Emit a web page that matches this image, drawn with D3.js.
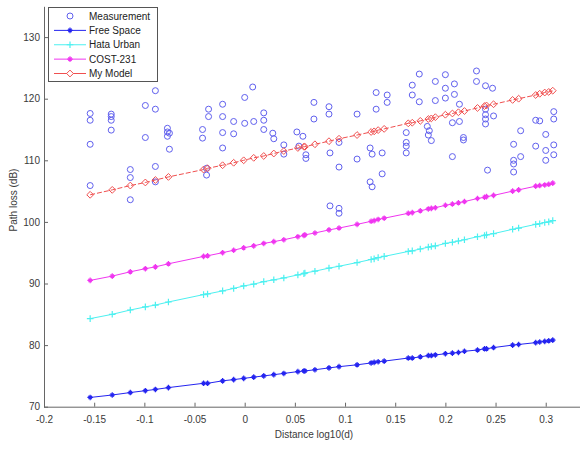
<!DOCTYPE html>
<html>
<head>
<meta charset="utf-8">
<script src="https://cdn.jsdelivr.net/npm/d3@7"></script>
<style>
  body { margin: 0; background: #fff; }
  svg { font-family: "Liberation Sans", Arial, sans-serif; }
  .axis path, .axis line { stroke: #666; }
  .axis text { fill: #3a3a3a; font-size: 10px; }
  .label { fill: #3a3a3a; font-size: 10px; }
</style>
</head>
<body>
<div id="chart"></div>
<script>
//////////////////
// Chart values //
//////////////////

// distances (log10) where the models are evaluated
var distX = [-0.154, -0.132, -0.114, -0.099, -0.089, -0.076, -0.041, -0.037, -0.022, -0.011,
  -0.001, 0.009, 0.019, 0.029, 0.039, 0.053, 0.059, 0.060, 0.070, 0.084,
  0.094, 0.112, 0.126, 0.129, 0.133, 0.139, 0.163, 0.167, 0.175, 0.183,
  0.186, 0.190, 0.200, 0.207, 0.213, 0.219, 0.232, 0.239, 0.241, 0.248,
  0.267, 0.273, 0.290, 0.294, 0.299, 0.303, 0.307];

var freeSpace = [71.5, 71.9, 72.3, 72.6, 72.8, 73.1, 73.8, 73.8, 74.2, 74.4,
  74.6, 74.8, 75.0, 75.2, 75.4, 75.7, 75.8, 75.8, 76.0, 76.3,
  76.5, 76.8, 77.1, 77.2, 77.3, 77.4, 77.9, 77.9, 78.1, 78.3,
  78.3, 78.4, 78.6, 78.7, 78.8, 79.0, 79.2, 79.4, 79.4, 79.6,
  80.0, 80.1, 80.4, 80.5, 80.6, 80.7, 80.8];

var hataUrban = [84.3, 85.0, 85.7, 86.2, 86.5, 87.0, 88.2, 88.3, 88.8, 89.2,
  89.6, 89.9, 90.3, 90.6, 90.9, 91.4, 91.6, 91.7, 92.0, 92.5,
  92.8, 93.4, 93.9, 94.0, 94.2, 94.4, 95.2, 95.3, 95.6, 95.9,
  96.0, 96.1, 96.5, 96.7, 96.9, 97.1, 97.6, 97.8, 97.9, 98.1,
  98.8, 99.0, 99.6, 99.7, 99.9, 100.0, 100.2];

var cost231 = [90.5, 91.2, 91.9, 92.4, 92.7, 93.2, 94.4, 94.5, 95.0, 95.4,
  95.8, 96.1, 96.5, 96.8, 97.1, 97.6, 97.8, 97.9, 98.2, 98.7,
  99.0, 99.6, 100.1, 100.2, 100.4, 100.6, 101.4, 101.5, 101.8, 102.1,
  102.2, 102.3, 102.7, 102.9, 103.1, 103.3, 103.8, 104.0, 104.1, 104.3,
  105.0, 105.2, 105.8, 105.9, 106.0, 106.1, 106.3];

var myModel = [104.4, 105.2, 105.9, 106.4, 106.8, 107.3, 108.5, 108.7, 109.2, 109.6,
  110.0, 110.4, 110.7, 111.1, 111.5, 112.0, 112.2, 112.2, 112.6, 113.1,
  113.5, 114.1, 114.6, 114.7, 114.9, 115.1, 116.0, 116.1, 116.4, 116.7,
  116.8, 117.0, 117.4, 117.6, 117.8, 118.0, 118.5, 118.8, 118.9, 119.1,
  119.8, 120.0, 120.6, 120.8, 121.0, 121.1, 121.3];

// measured points
var measX = [-0.154, -0.154, -0.154, -0.154, -0.133, -0.133, -0.133, -0.133, -0.114, -0.114,
  -0.114, -0.099, -0.099, -0.089, -0.089, -0.089, -0.089, -0.077, -0.077, -0.077,
  -0.075, -0.075, -0.042, -0.042, -0.038, -0.038, -0.036, -0.036, -0.022, -0.022,
  -0.022, -0.022, -0.011, -0.011, 0.000, 0.000, 0.008, 0.009, 0.019, 0.019,
  0.019, 0.028, 0.029, 0.039, 0.039, 0.052, 0.054, 0.058, 0.061, 0.061,
  0.069, 0.069, 0.084, 0.084, 0.085, 0.085, 0.094, 0.094, 0.094, 0.094,
  0.112, 0.112, 0.125, 0.127, 0.125, 0.127, 0.131, 0.131, 0.137, 0.137,
  0.142, 0.142, 0.161, 0.161, 0.161, 0.161, 0.167, 0.167, 0.174, 0.174,
  0.182, 0.184, 0.183, 0.186, 0.190, 0.190, 0.200, 0.200, 0.200, 0.209,
  0.209, 0.214, 0.207, 0.214, 0.218, 0.218, 0.207, 0.231, 0.231, 0.240,
  0.247, 0.240, 0.240, 0.240, 0.240, 0.248, 0.242, 0.275, 0.268, 0.275,
  0.268, 0.268, 0.268, 0.290, 0.294, 0.290, 0.300, 0.300, 0.300, 0.308,
  0.308, 0.308, 0.308];

var measY = [117.6, 116.5, 112.6, 105.9, 117.5, 117.1, 116.5, 114.9, 108.5, 107.2,
  103.6, 118.9, 113.7, 121.3, 118.3, 109.0, 106.5, 115.2, 114.6, 113.9,
  114.4, 111.8, 115.0, 113.6, 108.7, 107.6, 118.3, 117.1, 119.1, 117.1,
  114.5, 112.0, 116.3, 114.3, 120.2, 116.0, 121.9, 116.3, 117.7, 116.5,
  115.0, 114.4, 113.5, 112.5, 111.0, 114.6, 112.3, 113.9, 110.9, 110.3,
  119.4, 116.7, 118.7, 117.5, 111.2, 102.6, 112.9, 108.9, 102.2, 101.4,
  117.5, 110.2, 112.0, 111.0, 106.5, 105.7, 121.0, 118.3, 111.2, 107.8,
  120.6, 119.4, 114.5, 112.9, 112.3, 111.2, 122.2, 120.6, 124.0, 119.5,
  115.5, 114.8, 114.1, 113.2, 122.8, 119.7, 123.9, 121.7, 120.1, 122.4,
  120.7, 119.1, 116.1, 116.3, 113.7, 113.3, 110.6, 124.5, 122.8, 122.1,
  121.7, 118.3, 117.4, 116.7, 115.9, 117.2, 108.4, 114.8, 112.6, 110.6,
  110.0, 109.4, 108.1, 116.5, 116.4, 112.3, 114.2, 111.6, 110.0, 117.9,
  116.7, 112.5, 110.9];

var xTicks = [-0.2, -0.15, -0.1, -0.05, 0, 0.05, 0.1, 0.15, 0.2, 0.25, 0.3];
var xTickLabels = ["-0.2", "-0.15", "-0.1", "-0.05", "0", "0.05", "0.1", "0.15", "0.2", "0.25", "0.3"];
var yTicks = [70, 80, 90, 100, 110, 120, 130];

var legendNames = ["Measurement", "Free Space", "Hata Urban", "COST-231", "My Model"];

////////////////////////
// Scales and the svg //
////////////////////////
var width = 580, height = 455;

var xScale = d3.scaleLinear().domain([-0.2, 0.35]).range([44, 595.9]),
    yScale = d3.scaleLinear().domain([70, 135]).range([406.7, 6.3]);

var svg = d3.select("#chart").append("svg")
    .attr("width", width)
    .attr("height", height);

// marker shapes, drawn as strokes like matlab does
function markerPath(kind, s) {
  if (kind == "plus") {
    return "M" + (-s) + ",0H" + s + "M0," + (-s) + "V" + s;
  }
  if (kind == "star") {
    var k = s * 0.6;
    return "M" + (-s) + ",0H" + s + "M0," + (-s) + "V" + s +
      "M" + (-k) + "," + (-k) + "L" + k + "," + k + "M" + (-k) + "," + k + "L" + k + "," + (-k);
  }
  if (kind == "diamond") {
    return "M0," + (-s) + "L" + s + ",0L0," + s + "L" + (-s) + ",0Z";
  }
  return "";
}

var seriesStyle = [
  {name: "Free Space", values: freeSpace, color: "#2424f0", marker: "star", size: 2.8, dash: null},
  {name: "Hata Urban", values: hataUrban, color: "#4cf0f0", marker: "plus", size: 3.3, dash: null},
  {name: "COST-231", values: cost231, color: "#f035f0", marker: "star", size: 2.8, dash: null},
  {name: "My Model", values: myModel, color: "#f05050", marker: "diamond", size: 3.4, dash: "5,2"}
];

var measColor = "#6060ee";

//////////
// Axes //
//////////
var xAxis = d3.axisBottom(xScale)
    .tickValues(xTicks)
    .tickFormat(function(d, i) { return xTickLabels[i]; })
    .tickSizeInner(-4).tickSizeOuter(0).tickPadding(9);

var yAxis = d3.axisLeft(yScale)
    .tickValues(yTicks)
    .tickFormat(d3.format("d"))
    .tickSizeInner(-4).tickSizeOuter(0).tickPadding(4);

var gx = svg.append("g")
    .attr("class", "axis")
    .attr("transform", "translate(0," + yScale(70) + ")")
    .call(xAxis);
gx.select(".domain").attr("d", "M" + xScale(-0.2) + ",0.5H" + width);

var gy = svg.append("g")
    .attr("class", "axis")
    .attr("transform", "translate(" + xScale(-0.2) + ",0)")
    .call(yAxis);

// x label
svg.append("text")
    .attr("class", "label")
    .attr("x", 314)
    .attr("y", 438)
    .attr("text-anchor", "middle")
    .text("Distance log10(d)");

// y label
svg.append("text")
    .attr("class", "label")
    .attr("transform", "translate(17,200) rotate(-90)")
    .attr("text-anchor", "middle")
    .text("Path loss (dB)");

/////////////////
// Measurement //
/////////////////
var meas = measX.map(function(x, i) { return {x: x, y: measY[i]}; });

svg.append("g").selectAll("circle")
    .data(meas)
    .enter()
    .append("circle")
    .attr("cx", function(d) { return xScale(d.x); })
    .attr("cy", function(d) { return yScale(d.y); })
    .attr("r", 3)
    .attr("fill", "none")
    .attr("stroke", measColor)
    .attr("stroke-width", 1);

////////////
// Models //
////////////
var line = d3.line()
    .x(function(d) { return xScale(d.x); })
    .y(function(d) { return yScale(d.y); });

seriesStyle.forEach(function(s) {
  var pts = distX.map(function(x, i) { return {x: x, y: s.values[i]}; });
  var g = svg.append("g");
  g.append("path")
      .datum(pts)
      .attr("d", line)
      .attr("fill", "none")
      .attr("stroke", s.color)
      .attr("stroke-width", 1)
      .attr("stroke-dasharray", s.dash);
  g.selectAll(".mk")
      .data(pts)
      .enter()
      .append("path")
      .attr("class", "mk")
      .attr("transform", function(d) { return "translate(" + xScale(d.x) + "," + yScale(d.y) + ")"; })
      .attr("d", markerPath(s.marker, s.size))
      .attr("fill", "none")
      .attr("stroke", s.color)
      .attr("stroke-width", s.marker == "diamond" ? 1 : 1.2);
});

////////////
// Legend //
////////////
var legend = svg.append("g");

legend.append("rect")
    .attr("x", 48.5)
    .attr("y", 7.5)
    .attr("width", 109)
    .attr("height", 74)
    .attr("fill", "#fff")
    .attr("stroke", "#555")
    .attr("stroke-width", 1);

var rowY = d3.scalePoint().domain(legendNames).range([16, 73.5]);

legendNames.forEach(function(name, i) {
  var yy = rowY(name);
  if (i == 0) {
    legend.append("circle")
        .attr("cx", 70).attr("cy", yy).attr("r", 3)
        .attr("fill", "none").attr("stroke", measColor);
  } else {
    var s = seriesStyle[i - 1];
    legend.append("line")
        .attr("x1", 54).attr("x2", 86).attr("y1", yy).attr("y2", yy)
        .attr("stroke", s.color).attr("stroke-width", 1);
    legend.append("path")
        .attr("transform", "translate(70," + yy + ")")
        .attr("d", markerPath(s.marker, s.size))
        .attr("fill", s.marker == "diamond" ? "#fff" : "none")
        .attr("stroke", s.color)
        .attr("stroke-width", s.marker == "diamond" ? 1 : 1.2);
  }
  legend.append("text")
      .attr("class", "label")
      .attr("x", 89)
      .attr("y", yy)
      .attr("dy", "0.35em")
      .style("fill", "#222")
      .text(name);
});
</script>
</body>
</html>
